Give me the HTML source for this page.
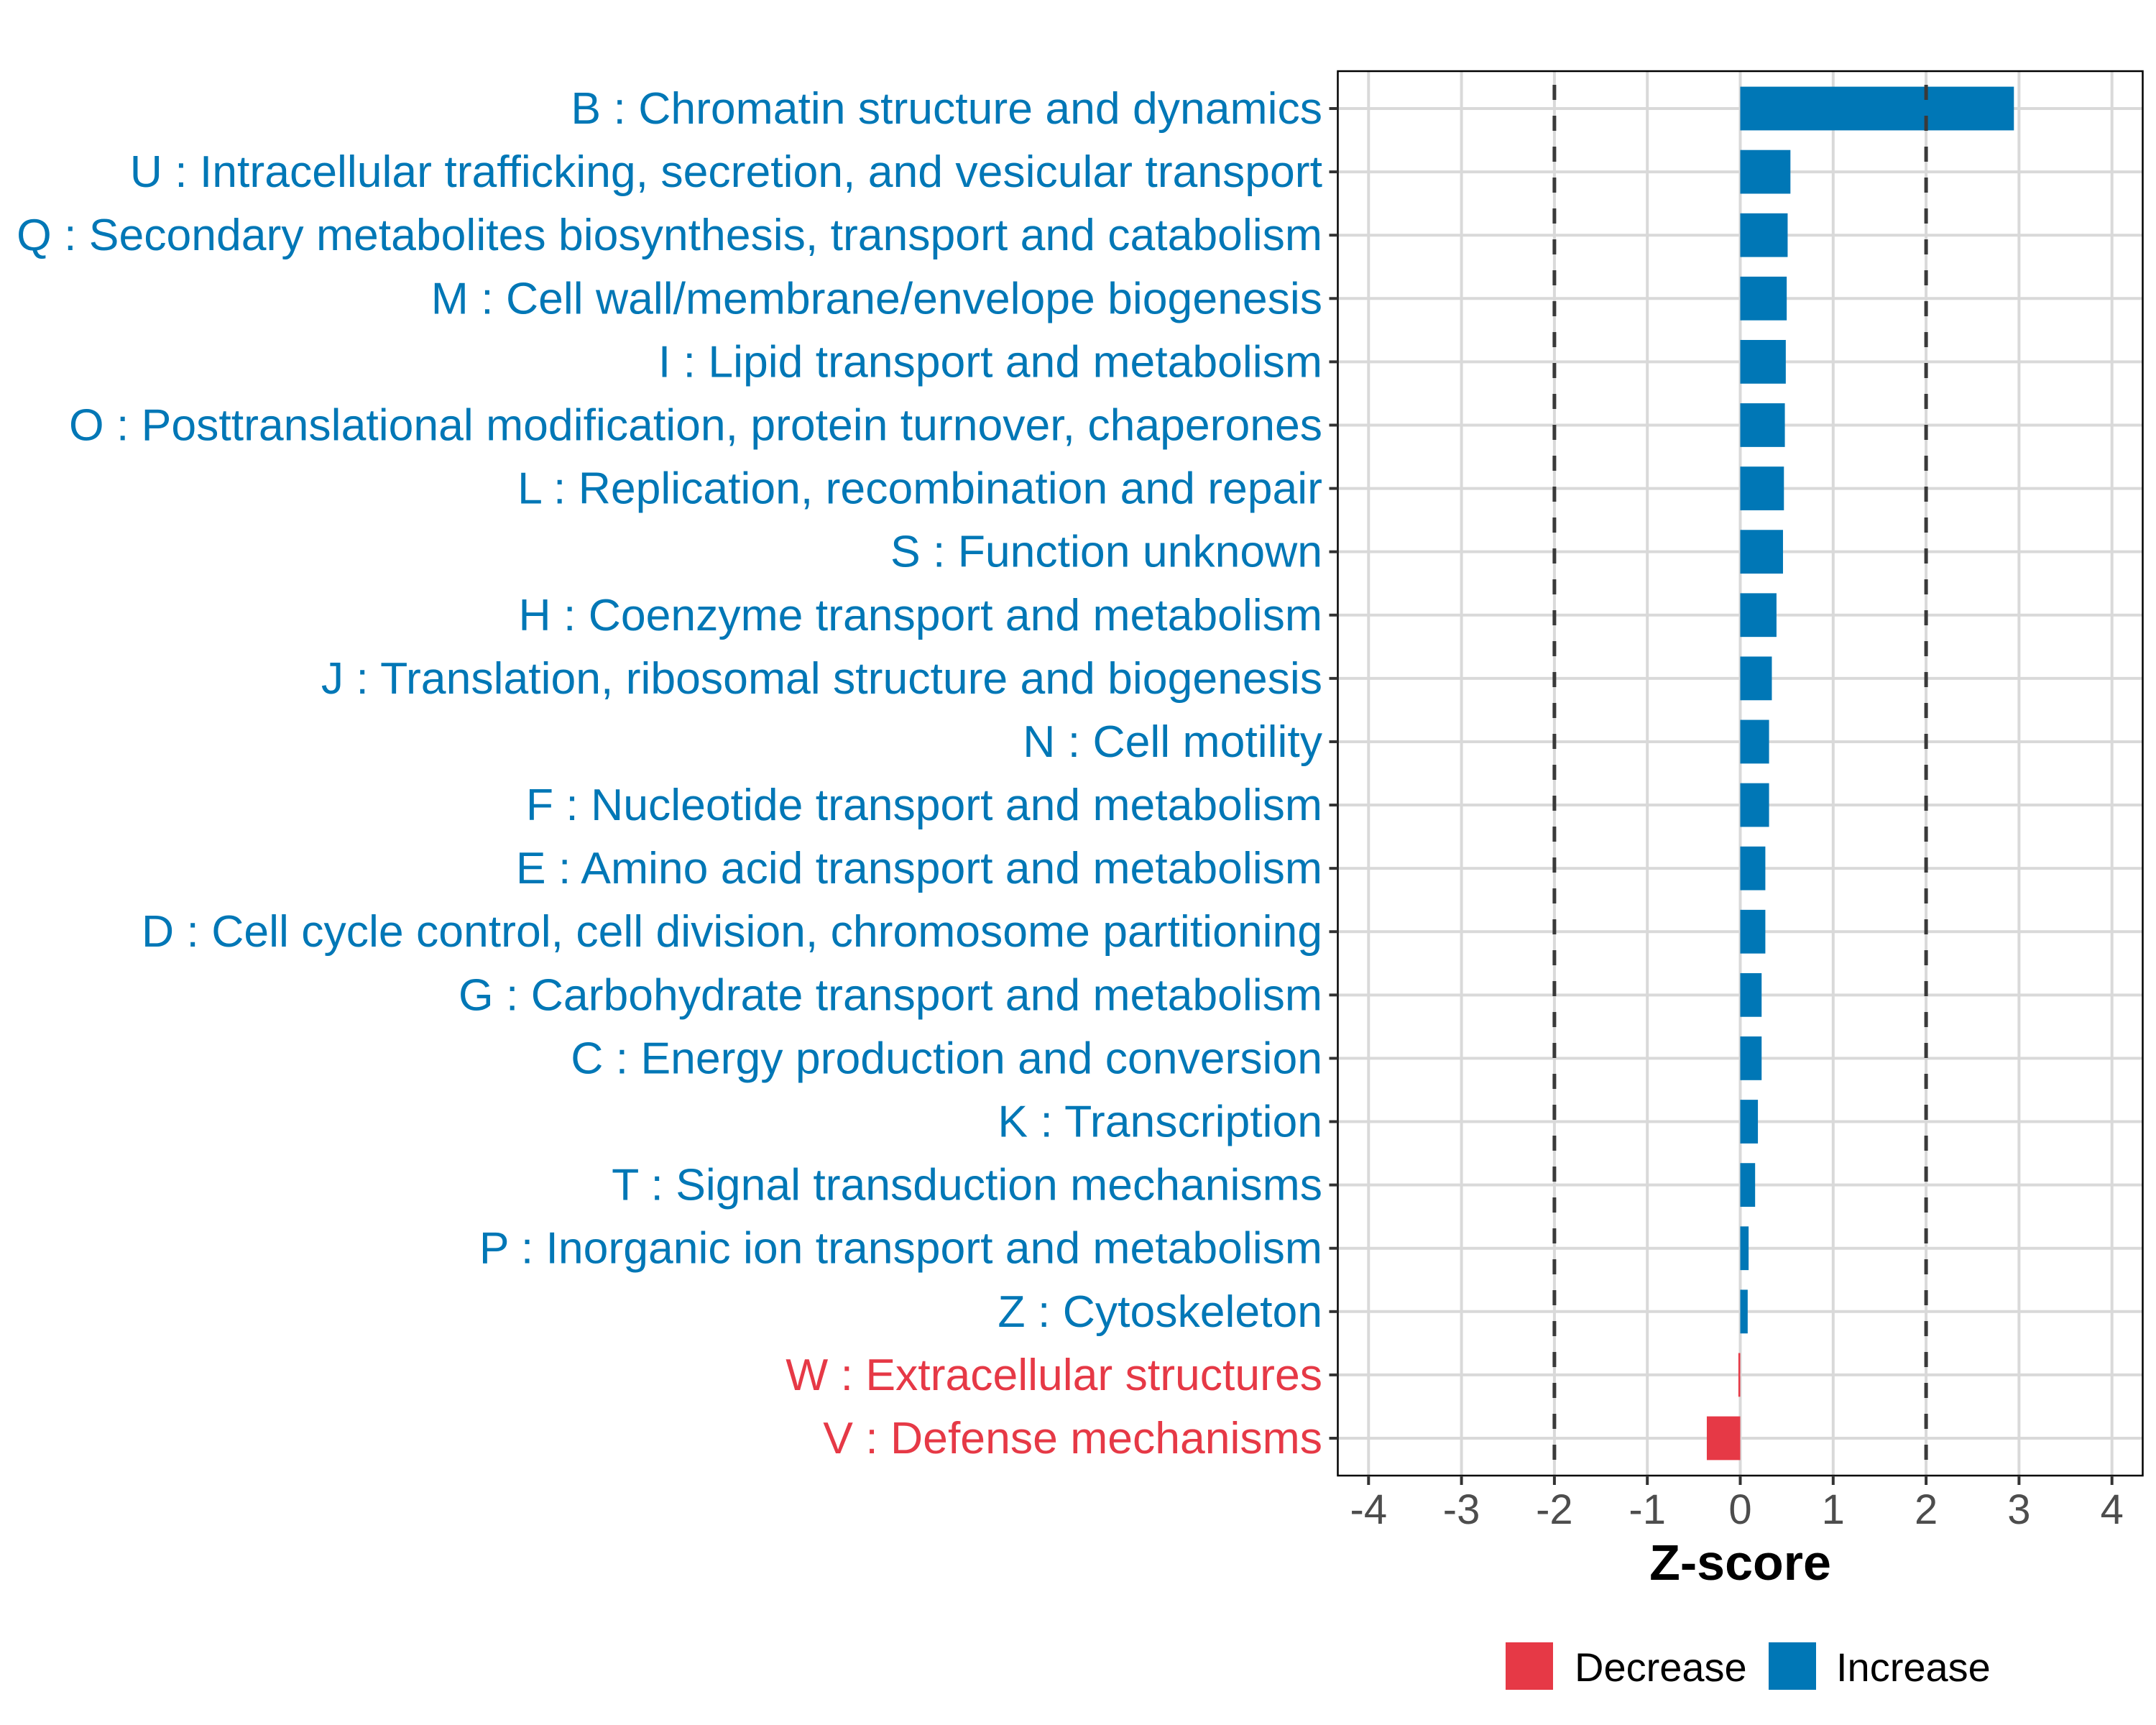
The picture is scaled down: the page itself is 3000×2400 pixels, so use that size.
<!DOCTYPE html>
<html><head><meta charset="utf-8"><style>
html,body{margin:0;padding:0;background:#fff;}
svg{display:block;font-family:"Liberation Sans",Arial,sans-serif;}
</style></head><body>
<svg id="chart" width="3000" height="2400" viewBox="0 0 3000 2400" xmlns="http://www.w3.org/2000/svg">
<rect x="0" y="0" width="3000" height="2400" fill="#fff"/>
<g id="grid"></g>
<g id="bars"></g>
<g id="ylabels"></g>
<g id="xaxis"></g>
<text x="2421.5" y="2198" font-size="70" font-weight="bold" text-anchor="middle" fill="#000">Z-score</text>
<g>
  <rect x="2095" y="2285" width="66" height="66" fill="#e63946"/>
  <text x="2191" y="2339" font-size="56" fill="#000">Decrease</text>
  <rect x="2461" y="2285" width="66" height="66" fill="#0077b6"/>
  <text x="2555" y="2339" font-size="56" fill="#000">Increase</text>
</g>
</svg>
<script>
const categories = ["B : Chromatin structure and dynamics","U : Intracellular trafficking, secretion, and vesicular transport","Q : Secondary metabolites biosynthesis, transport and catabolism","M : Cell wall/membrane/envelope biogenesis","I : Lipid transport and metabolism","O : Posttranslational modification, protein turnover, chaperones","L : Replication, recombination and repair","S : Function unknown","H : Coenzyme transport and metabolism","J : Translation, ribosomal structure and biogenesis","N : Cell motility","F : Nucleotide transport and metabolism","E : Amino acid transport and metabolism","D : Cell cycle control, cell division, chromosome partitioning","G : Carbohydrate transport and metabolism","C : Energy production and conversion","K : Transcription","T : Signal transduction mechanisms","P : Inorganic ion transport and metabolism","Z : Cytoskeleton","W : Extracellular structures","V : Defense mechanisms"];
const zscores = [2.945,0.54,0.51,0.50,0.49,0.48,0.47,0.46,0.39,0.34,0.31,0.31,0.27,0.27,0.23,0.23,0.19,0.16,0.09,0.08,-0.02,-0.36];
const xTicks = [-4,-3,-2,-1,0,1,2,3,4];
const xTickLabels = ["-4","-3","-2","-1","0","1","2","3","4"];
const thresholds = [-2,2];

const NS="http://www.w3.org/2000/svg";
const L=1861.5,R=2981.5,T=99,B=2053;
const x0=2421.5,unit=129.3;
function xs(v){return x0+v*unit;}
const rowTop=151,rowStep=(2001-151)/21;
function ys(i){return rowTop+i*rowStep;}
const bandH=rowStep*0.69;
function mk(tag,attrs,parent){const e=document.createElementNS(NS,tag);for(const k in attrs)e.setAttribute(k,attrs[k]);parent.appendChild(e);return e;}
const grid=document.getElementById('grid'),bars=document.getElementById('bars'),yl=document.getElementById('ylabels'),xa=document.getElementById('xaxis');
mk('rect',{x:L,y:T,width:R-L,height:B-T,fill:'#fff'},grid);
xTicks.forEach(v=>{const l=mk('line',{x1:xs(v),x2:xs(v),y1:T,y2:B,stroke:'#d9d9d9','stroke-width':4},grid);

});
categories.forEach((c,i)=>{const l=mk('line',{x1:L,x2:R,y1:ys(i),y2:ys(i),stroke:'#d9d9d9','stroke-width':4},grid);

});
zscores.forEach((v,i)=>{
  const a=Math.min(xs(0),xs(v)),w=Math.abs(xs(v)-xs(0));
  const r=mk('rect',{x:a,y:ys(i)-bandH/2,width:Math.max(w,2),height:bandH,fill:v<0?'#e63946':'#0077b6'},bars);
  
  
});
thresholds.forEach(v=>{const l=mk('line',{x1:xs(v),x2:xs(v),y1:T,y2:B,stroke:'#3a3a3a','stroke-width':5,'stroke-dasharray':'21 22','stroke-dashoffset':'-19'},bars);

});
const pb=mk('rect',{x:L,y:T,width:R-L,height:B-T,fill:'none',stroke:'#000','stroke-width':2.5},bars);


categories.forEach((c,i)=>{
  const t=mk('text',{x:1840,y:ys(i)+21,'font-size':62.5,'text-anchor':'end',fill:zscores[i]<0?'#e63946':'#0077b6'},yl);
  t.textContent=c;
  
  
  const tk=mk('line',{x1:L-12,x2:L,y1:ys(i),y2:ys(i),stroke:'#333','stroke-width':4},yl);
  
  
});
xTicks.forEach((v,i)=>{
  const tk=mk('line',{x1:xs(v),x2:xs(v),y1:B,y2:B+13,stroke:'#333','stroke-width':4},xa);
  
  
  const t=mk('text',{x:xs(v),y:2120,'font-size':58,'text-anchor':'middle',fill:'#4d4d4d'},xa);
  t.textContent=xTickLabels[i];
  
  
});
</script>
</body></html>
